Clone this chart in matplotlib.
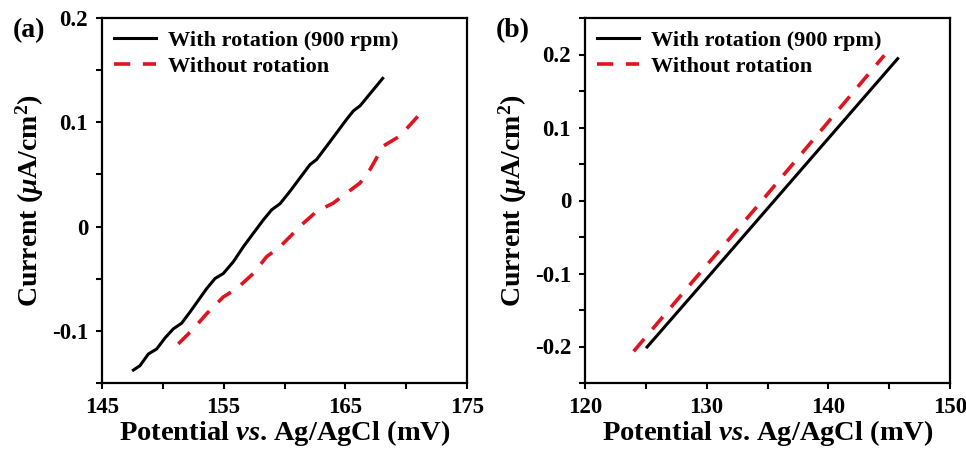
import numpy as np
import matplotlib
matplotlib.use('Agg')
import matplotlib.pyplot as plt
from matplotlib.ticker import MultipleLocator

plt.rcParams['font.family'] = ['Liberation Serif', 'DejaVu Serif']
plt.rcParams['font.weight'] = 'bold'
plt.rcParams['axes.labelweight'] = 'bold'
plt.rcParams['mathtext.fontset'] = 'custom'
plt.rcParams['mathtext.it'] = 'Liberation Serif:italic:bold'
plt.rcParams['mathtext.rm'] = 'Liberation Serif:bold'
plt.rcParams['mathtext.bf'] = 'Liberation Serif:bold'

# panel (a)
a_rot_x = [147.58, 148.12, 148.81, 149.49, 150.18, 150.86, 151.55, 152.23, 152.92, 153.60,
           154.29, 154.97, 155.79, 156.62, 157.44, 158.26, 158.95, 159.63, 160.45, 161.27,
           162.10, 162.64, 163.47, 164.29, 165.11, 165.66, 166.21, 166.89, 168.07]
a_rot_y = [-0.1376, -0.1334, -0.1222, -0.1174, -0.1068, -0.0981, -0.0926, -0.0820, -0.0707, -0.0595,
           -0.0498, -0.0450, -0.0338, -0.0193, -0.0064, 0.0064, 0.0161, 0.0219, 0.0338, 0.0466,
           0.0595, 0.0643, 0.0772, 0.0900, 0.1029, 0.1109, 0.1158, 0.1254, 0.1421]
a_norot_x = [151.27, 152.51, 153.60, 154.97, 156.07, 157.44, 158.53, 159.63, 160.73, 161.55,
             162.64, 164.01, 165.11, 166.21, 167.03, 168.12, 169.49, 170.99]
a_norot_y = [-0.1125, -0.0981, -0.0836, -0.0675, -0.0595, -0.0450, -0.0289, -0.0193, -0.0064, 0.0032,
             0.0145, 0.0225, 0.0322, 0.0418, 0.0547, 0.0772, 0.0868, 0.1061]

# panel (b)
b_rot_x = [125.1, 130.0, 135.0, 140.0, 145.7]
b_rot_y = [-0.2007, -0.1070, -0.0110, 0.0850, 0.1943]
b_norot_x = [124.0, 129.0, 134.0, 139.0, 144.6]
b_norot_y = [-0.2066, -0.1080, -0.0110, 0.0880, 0.1989]

labels = ['With rotation (900 rpm)', 'Without rotation']

fig = plt.figure(figsize=(9.66, 4.5), dpi=100)
ax1 = fig.add_axes([102/966, 1-383/450, 365/966, 365/450])
ax2 = fig.add_axes([585/966, 1-383/450, 365/966, 365/450])

panels = [
    (ax1, a_rot_x, a_rot_y, a_norot_x, a_norot_y, (145, 175), (-0.15, 0.2), [145, 155, 165, 175], [-0.1, 0, 0.1, 0.2], '(a)'),
    (ax2, b_rot_x, b_rot_y, b_norot_x, b_norot_y, (120, 150), (-0.25, 0.25), [120, 130, 140, 150], [-0.2, -0.1, 0, 0.1, 0.2], '(b)'),
]

for ax, rx, ry, nx, ny, xl, yl, xt, yt, tag in panels:
    ax.plot(rx, ry, color='black', lw=2.2, label=labels[0])
    ax.plot(nx, ny, color='#e0141e', lw=2.6, ls=(0, (4.5, 3.5)), label=labels[1])
    ax.set_xlim(*xl)
    ax.set_ylim(*yl)
    ax.yaxis.set_minor_locator(MultipleLocator(0.05))
    ax.set_xticks(xt)
    ax.set_xticks([t for t in np.arange(xl[0], xl[1] + 1, 5) if t not in xt], minor=True)
    ax.set_yticks(yt)
    ax.set_yticklabels(['0' if v == 0 else ('%g' % v) for v in yt])
    ax.tick_params(which='both', direction='out', length=4, width=1.5, labelsize=16.5, pad=6)
    for s in ax.spines.values():
        s.set_linewidth(1.6)
    ax.set_xlabel(r'Potential $\mathit{vs}$. Ag/AgCl (mV)', fontsize=20.5, labelpad=0)
    ax.set_ylabel(r'Current ($\mathit{\mu}$A/cm$^{\mathbf{2}}$)', fontsize=20, labelpad=4)
    leg = ax.legend(loc='upper left', frameon=False, fontsize=16, handlelength=1.9,
                    borderaxespad=0.15, labelspacing=0.25, handletextpad=0.5)
    ax.text(-0.245, 1.0, tag, transform=ax.transAxes, fontsize=20, fontweight='bold',
            va='top', ha='left')

fig.savefig('out.png', dpi=100)
